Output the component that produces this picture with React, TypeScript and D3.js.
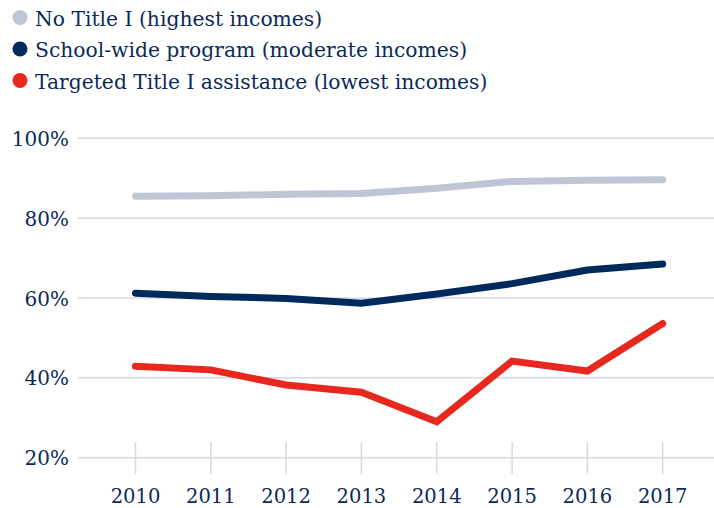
import { useEffect, useRef } from "react"
import * as d3 from "d3"

const years = [2010, 2011, 2012, 2013, 2014, 2015, 2016, 2017]
const noTitleI = [85.5, 85.6, 86.0, 86.2, 87.5, 89.2, 89.5, 89.6]
const schoolWide = [61.2, 60.4, 59.9, 58.7, 61.0, 63.6, 67.0, 68.5]
const targeted = [42.9, 42.0, 38.2, 36.4, 29.0, 44.2, 41.7, 53.6]
const yTicks = [20, 40, 60, 80, 100]

const seriesNames = [
  "No Title I (highest incomes)",
  "School-wide program (moderate incomes)",
  "Targeted Title I assistance (lowest incomes)",
]
const colors = ["#bfc5d4", "#002a5c", "#e8281e"]
const ink = "#0c2a58"
const gridColor = "#d6d9e4"
const font = "'DejaVu Serif', serif"

export default function App() {
  const svgRef = useRef<SVGSVGElement>(null)

  useEffect(() => {
    const svgEl = svgRef.current
    if (!svgEl) return
    const svg = d3.select(svgEl)
    svg.selectAll("*").remove()

    const W = 714
    const H = 508

    const x = d3.scalePoint<number>().domain(years).range([135.5, 662.7])
    const y = d3.scaleLinear().domain([20, 100]).range([457.7, 138.3])

    // legend
    const legend = svg.append("g")
    seriesNames.forEach((name, i) => {
      const g = legend.append("g").attr("transform", `translate(0,${17.5 + i * 31.5})`)
      g.append("circle").attr("cx", 20).attr("cy", 0).attr("r", 7.5).attr("fill", colors[i])
      g.append("text").attr("x", 35).attr("y", 8)
        .attr("font-family", font).attr("font-size", 20.3).attr("fill", ink)
        .text(name)
    })

    // grid
    svg.append("g").selectAll("line").data(yTicks).join("line")
      .attr("x1", 78).attr("x2", W)
      .attr("y1", d => y(d)).attr("y2", d => y(d))
      .attr("stroke", gridColor).attr("stroke-width", 1.5)
    svg.append("g").selectAll("text").data(yTicks).join("text")
      .attr("x", 69).attr("y", d => y(d) + 7.5)
      .attr("text-anchor", "end")
      .attr("font-family", font).attr("font-size", 20).attr("fill", ink)
      .text(d => `${d}%`)

    // x ticks
    svg.append("g").selectAll("line").data(years).join("line")
      .attr("x1", d => x(d)!).attr("x2", d => x(d)!)
      .attr("y1", 442).attr("y2", 474)
      .attr("stroke", gridColor).attr("stroke-width", 1.5)
    svg.append("g").selectAll("text").data(years).join("text")
      .attr("x", d => x(d)!).attr("y", 503)
      .attr("text-anchor", "middle")
      .attr("font-family", font).attr("font-size", 19.5).attr("fill", ink)
      .text(d => String(d))

    const line = d3.line<number>()
      .x((_, i) => x(years[i])!)
      .y(d => y(d))

    svg.append("g").selectAll("path").data([noTitleI, schoolWide, targeted]).join("path")
      .attr("d", d => line(d) || "")
      .attr("fill", "none")
      .attr("stroke", (_, i) => colors[i])
      .attr("stroke-width", 7)
      .attr("stroke-linecap", "round")
      .attr("stroke-linejoin", "miter")

    svg.attr("viewBox", `0 0 ${W} ${H}`)
  }, [])

  return (
    <svg
      ref={svgRef}
      width={714}
      height={508}
      style={{ position: "absolute", left: 0, top: 0, background: "#fff" }}
    />
  )
}
